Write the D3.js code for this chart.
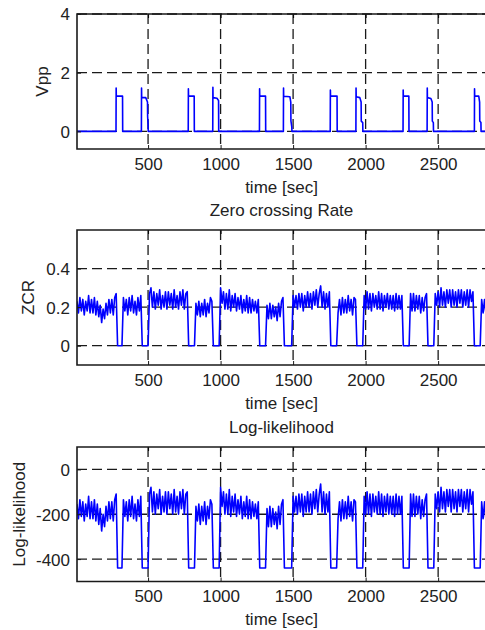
<!DOCTYPE html>
<html>
<head>
<meta charset="utf-8">
<script src="https://d3js.org/d3.v7.min.js"></script>
<style>
  body { margin: 0; background: #fff; }
  text { font-family: "Liberation Sans", Arial, sans-serif; fill: #222; }
</style>
</head>
<body>
<div id="chart"></div>
<script>

// x axis (shared by all three panels)
const X_DOMAIN = [10, 2830];
const X_TICKS = [500, 1000, 1500, 2000, 2500];

// Vpp: step signal given as breakpoints (time, value)
const vppTime = [10,
  279, 280, 281, 324, 325,
  454, 455, 456, 484, 496, 497, 500, 501,
  777, 778, 779, 818, 819,
  946, 947, 948, 975, 986, 987,
  1268, 1269, 1270, 1310, 1311,
  1433, 1434, 1435, 1478, 1484, 1485, 1491, 1492,
  1756, 1757, 1758, 1803, 1804,
  1933, 1934, 1935, 1960, 1969, 1970, 1980, 1981,
  2258, 2259, 2260, 2298, 2299,
  2424, 2425, 2426, 2450, 2459, 2460, 2467, 2468,
  2750, 2751, 2752, 2780, 2786, 2787, 2795, 2796,
  3000];
const vppValue = [0,
  0, 1.48, 1.2, 1.2, 0,
  0, 1.48, 1.15, 1.15, 1.0, 0.5, 0.25, 0,
  0, 1.45, 1.2, 1.2, 0,
  0, 1.5, 1.15, 1.13, 1.05, 0,
  0, 1.45, 1.2, 1.2, 0,
  0, 1.48, 1.2, 1.18, 1.0, 0.36, 0.15, 0,
  0, 1.41, 1.2, 1.2, 0,
  0, 1.48, 1.18, 1.15, 1.0, 0.35, 0.3, 0,
  0, 1.41, 1.2, 1.2, 0,
  0, 1.48, 1.15, 1.12, 1.0, 0.35, 0.3, 0,
  0, 1.45, 1.2, 1.2, 1.0, 0.35, 0.3, 0,
  0];

// ZCR and log-likelihood are sampled every 10 sec from t = 10 to 3000
const sampleTime = d3.range(10, 3001, 10);

const zcr = [
  0.23,0.17,0.25,0.18,0.24,0.16,0.23,0.18,0.26,0.17,0.24,0.17,0.25,0.16,0.23,0.15,0.21,0.12,0.19,0.14,0.22,0.16,0.24,0.17,0.24,0.16,0.25,0.27,
  0,0,0,0,
  0.25,0.18,0.24,0.16,0.25,0.18,0.26,0.17,0.23,0.16,0.25,0.18,0.26,
  0,0,0,0,0,
  0.27,0.30,0.20,0.28,0.19,0.27,0.21,0.29,0.19,0.26,0.20,0.28,0.19,0.28,0.21,0.27,0.19,0.29,0.20,0.26,0.19,0.28,0.21,0.29,0.19,0.27,0.28,
  0,0,0,0,0,
  0.22,0.16,0.23,0.15,0.22,0.16,0.24,0.15,0.22,0.17,0.25,0.23,
  0,0,0,0,0,
  0.30,0.22,0.28,0.19,0.27,0.19,0.29,0.18,0.26,0.20,0.27,0.18,0.25,0.19,0.26,0.17,0.24,0.18,0.26,0.17,0.25,0.17,0.24,0.18,0.23,0.17,0.24,
  0,0,0,0,0,
  0.21,0.14,0.22,0.14,0.21,0.15,0.20,0.13,0.22,0.15,0.23,0.25,
  0,0,0,0,0,0,
  0.26,0.20,0.26,0.19,0.27,0.20,0.27,0.18,0.26,0.20,0.28,0.20,0.27,0.19,0.28,0.21,0.29,0.20,0.27,0.31,0.20,0.28,0.19,0.27,0.20,0.28,
  0,0,0,0,0,
  0.17,0.24,0.16,0.25,0.17,0.24,0.17,0.26,0.18,0.24,0.16,0.25,0.24,
  0,0,0,0,0,
  0.26,0.19,0.28,0.19,0.27,0.18,0.27,0.20,0.26,0.19,0.28,0.19,0.27,0.18,0.26,0.20,0.27,0.19,0.26,0.19,0.26,0.18,0.27,0.19,0.26,0.19,0.26,
  0,0,0,0,0,
  0.27,0.18,0.27,0.18,0.26,0.19,0.26,0.17,0.25,0.18,0.25,0.27,
  0,0,0,0,0,
  0.27,0.21,0.28,0.20,0.30,0.21,0.28,0.20,0.29,0.22,0.29,0.20,0.29,0.21,0.28,0.20,0.29,0.22,0.29,0.20,0.28,0.21,0.29,0.20,0.29,0.23,0.28,
  0,0,0,0,0,
  0.24,0.17,0.24,0.16,0.25,0.18,0.23,0.16,0.24,0.17,0.24,0.16,0.25,0.18,0.23,0.16,0.24,0.17,0.24,0.18,0.23
];

const logLik = [
  -155,-220,-135,-210,-145,-230,-155,-210,-120,-220,-145,-220,-135,-230,-155,-245,-175,-275,-200,-255,-165,-230,-145,-220,-145,-230,-135,-110,
  -440,-440,-440,-440,
  -135,-210,-145,-230,-135,-210,-120,-220,-155,-230,-135,-210,-120,
  -440,-440,-440,-440,-440,
  -110,-80,-190,-100,-200,-110,-175,-90,-200,-120,-190,-100,-200,-100,-175,-110,-200,-90,-190,-120,-200,-100,-175,-90,-200,-110,-100,
  -440,-440,-440,-440,-440,
  -165,-230,-155,-245,-165,-230,-145,-245,-165,-220,-135,-155,
  -440,-440,-440,-440,-440,
  -80,-165,-100,-200,-110,-200,-90,-210,-120,-190,-110,-210,-135,-200,-120,-220,-145,-210,-120,-220,-135,-220,-145,-210,-155,-220,-145,
  -440,-440,-440,-440,-440,
  -175,-255,-165,-255,-175,-245,-190,-265,-165,-245,-155,-135,
  -440,-440,-440,-440,-440,-440,
  -120,-190,-120,-200,-110,-190,-110,-210,-120,-190,-100,-190,-110,-200,-100,-175,-90,-190,-110,-65,-190,-100,-200,-110,-190,-100,
  -440,-440,-440,-440,-440,
  -220,-145,-230,-135,-220,-145,-220,-120,-210,-145,-230,-135,-145,
  -440,-440,-440,-440,-440,
  -120,-200,-100,-200,-110,-210,-110,-190,-120,-200,-100,-200,-110,-210,-120,-190,-110,-200,-120,-200,-120,-210,-110,-200,-120,-200,-120,
  -440,-440,-440,-440,-440,
  -110,-210,-110,-210,-120,-200,-120,-220,-135,-210,-135,-110,
  -440,-440,-440,-440,-440,
  -110,-175,-100,-190,-80,-175,-100,-190,-90,-165,-90,-190,-90,-175,-100,-190,-90,-165,-90,-190,-100,-175,-90,-190,-90,-155,-100,
  -440,-440,-440,-440,-440,
  -145,-220,-145,-230,-135,-210,-155,-230,-145,-220,-145,-230,-135,-210,-155,-230,-145,-220,-145,-210,-155
];

const vppTicks = [0, 2, 4];
const zcrTicks = [0, 0.2, 0.4];
const logLikTicks = [-400, -200, 0];

const LINE_COLOUR = "#0000ff";
const AXIS_COLOUR = "#1a1a1a";

var svg = d3.select("#chart")
  .append("svg")
    .attr("width", 485)
    .attr("height", 630);

var x = d3.scaleLinear()
          .domain(X_DOMAIN)
          .range([77, 486]);

function drawPanel(p, idx) {
  var y = d3.scaleLinear()
            .domain(p.domain)
            .range([p.bottom, p.top]);
  var g = svg.append("g");

  g.append("clipPath")
      .attr("id", "clip" + idx)
    .append("rect")
      .attr("x", x.range()[0])
      .attr("y", p.top)
      .attr("width", x.range()[1] - x.range()[0])
      .attr("height", p.bottom - p.top);

  // dashed grid
  g.append("g")
    .selectAll("line")
    .data(X_TICKS)
    .enter()
    .append("line")
      .attr("x1", function(d) { return x(d); })
      .attr("x2", function(d) { return x(d); })
      .attr("y1", p.top)
      .attr("y2", p.bottom)
      .attr("stroke", AXIS_COLOUR)
      .attr("stroke-width", 1.3)
      .attr("stroke-dasharray", "10,5");
  g.append("g")
    .selectAll("line")
    .data(p.ticks)
    .enter()
    .append("line")
      .attr("x1", x.range()[0])
      .attr("x2", x.range()[1])
      .attr("y1", function(d) { return y(d); })
      .attr("y2", function(d) { return y(d); })
      .attr("stroke", AXIS_COLOUR)
      .attr("stroke-width", 1.3)
      .attr("stroke-dasharray", "10,5");

  // signal
  var line = d3.line()
    .x(function(d) { return x(d[0]); })
    .y(function(d) { return y(d[1]); });
  g.append("path")
      .datum(d3.zip(p.time, p.values))
      .attr("clip-path", "url(#clip" + idx + ")")
      .attr("fill", "none")
      .attr("stroke", LINE_COLOUR)
      .attr("stroke-width", p.lineWidth)
      .attr("stroke-linejoin", "round")
      .attr("d", line);

  // axes: MATLAB-style inward ticks, box on left/top/bottom
  var xAxis = g.append("g")
    .attr("transform", "translate(0," + p.bottom + ")")
    .call(d3.axisBottom(x).tickValues(X_TICKS).tickSize(-4)
            .tickFormat(function(d) { return String(d); }));
  var yAxis = g.append("g")
    .attr("transform", "translate(" + x.range()[0] + ",0)")
    .call(d3.axisLeft(y).tickValues(p.ticks).tickSize(-4).tickPadding(7)
            .tickFormat(function(d) { return String(d); }));
  g.append("g")
    .attr("transform", "translate(0," + p.top + ")")
    .call(d3.axisTop(x).tickValues(X_TICKS).tickSize(-4).tickFormat(""))
    .select(".domain").remove();

  [xAxis, yAxis].forEach(function(a) {
    a.select(".domain").remove();
    a.selectAll("line").attr("stroke", AXIS_COLOUR);
    a.selectAll("text")
      .attr("font-size", "17px")
      .attr("font-family", "'Liberation Sans', Arial, sans-serif")
      .attr("fill", "#222");
  });
  xAxis.selectAll("text").attr("dy", null).attr("y", 20.5);
  yAxis.selectAll("text").attr("dy", "0.35em");

  g.append("path")
      .attr("d", "M" + x.range()[1] + "," + p.top + "H" + x.range()[0] +
                 "V" + p.bottom + "H" + x.range()[1])
      .attr("fill", "none")
      .attr("stroke", AXIS_COLOUR)
      .attr("stroke-width", 1.6);

  g.append("text")
      .attr("text-anchor", "middle")
      .attr("font-size", "17px")
      .attr("x", (x.range()[0] + x.range()[1]) / 2)
      .attr("y", p.bottom + 43.5)
      .text("time [sec]");

  g.append("text")
      .attr("text-anchor", "middle")
      .attr("font-size", "17px")
      .attr("transform", "translate(" + p.ylabelX + "," + ((p.top + p.bottom) / 2) + ") rotate(-90)")
      .text(p.ylabel);

  if (p.title) {
    g.append("text")
        .attr("text-anchor", "middle")
        .attr("font-size", "17px")
        .attr("x", (x.range()[0] + x.range()[1]) / 2)
        .attr("y", p.top - 14.5)
        .text(p.title);
  }
}

var panels = [
  {top: 14, bottom: 149, domain: [-0.6, 4], ticks: vppTicks, lineWidth: 1.6,
   time: vppTime, values: vppValue, ylabel: "Vpp", ylabelX: 48, title: null},
  {top: 230, bottom: 365, domain: [-0.1, 0.6], ticks: zcrTicks, lineWidth: 1.6,
   time: sampleTime, values: zcr, ylabel: "ZCR", ylabelX: 34, title: "Zero crossing Rate"},
  {top: 447, bottom: 581.5, domain: [-500, 100], ticks: logLikTicks, lineWidth: 1.6,
   time: sampleTime, values: logLik, ylabel: "Log-likelihood", ylabelX: 25, title: "Log-likelihood"}
];

panels.forEach(drawPanel);

</script>
</body>
</html>
